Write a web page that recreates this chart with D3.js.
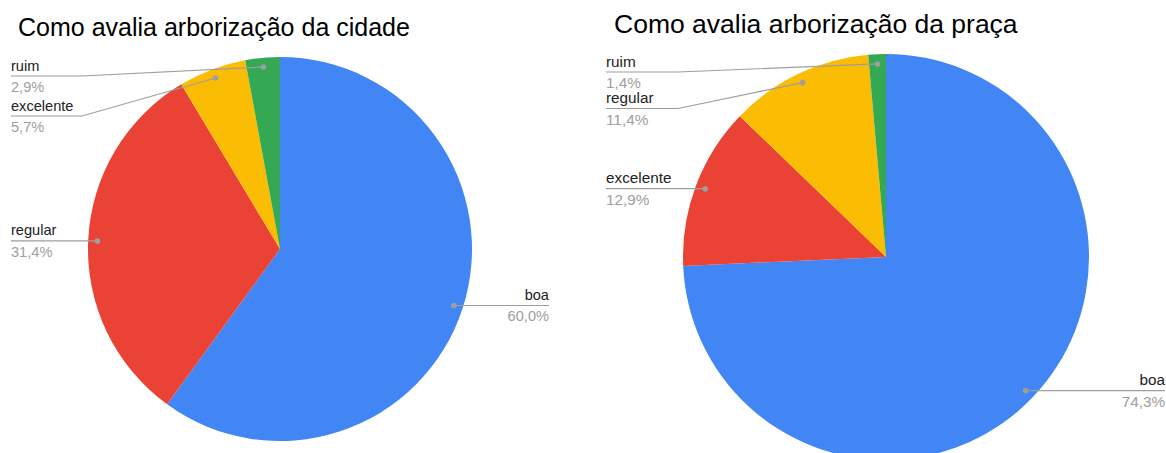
<!DOCTYPE html>
<html>
<head>
<meta charset="utf-8">
<script src="https://cdn.jsdelivr.net/npm/d3@7"></script>
<style>
  body { margin: 0; background: #fff; }
  svg { display: block; font-family: "Liberation Sans", Arial, sans-serif; }
</style>
</head>
<body>
<div id="chart"></div>
<script>
// data, in slice order (clockwise from 12 o'clock)
var cidadeLabels = ['boa', 'regular', 'excelente', 'ruim'];
var cidadeValues = [60.0, 31.4, 5.7, 2.9];
var pracaLabels = ['boa', 'excelente', 'regular', 'ruim'];
var pracaValues = [74.3, 12.9, 11.4, 1.4];

var colors = ['#4285F4', '#EA4335', '#FBBC04', '#34A853'];

var width = 1166, height = 453;

var svg = d3.select('#chart')
  .append('svg')
  .attr('width', width)
  .attr('height', height);

var charts = [
  { title: 'Como avalia arborização da cidade', labels: cidadeLabels, values: cidadeValues,
    cx: 280, cy: 249, r: 192, titleX: 18, titleY: 36, titleSize: 25, fontSize: 14.6,
    left: 11, right: 549, elbow: 82, minY: 76, spacing: 40 },
  { title: 'Como avalia arborização da praça', labels: pracaLabels, values: pracaValues,
    cx: 886, cy: 257, r: 203, titleX: 614, titleY: 33, titleSize: 26.5, fontSize: 15.3,
    left: 606, right: 1165, elbow: 678, minY: 72, spacing: 36.5 }
];

var fmt = function(v) { return v.toFixed(1).replace('.', ',') + '%'; };

charts.forEach(function(c) {
  var data = c.labels.map(function(l, i) { return { label: l, value: c.values[i], color: colors[i] }; });

  var pie = d3.pie()
    .value(function(d) { return d.value; })
    .sort(null);

  var arc = d3.arc()
    .innerRadius(0)
    .outerRadius(c.r);

  var g = svg.append('g')
    .attr('transform', 'translate(' + c.cx + ',' + c.cy + ')');

  var arcs = pie(data);

  g.selectAll('path')
    .data(arcs)
    .enter()
    .append('path')
    .attr('d', arc)
    .attr('fill', function(d) { return d.data.color; });

  svg.append('text')
    .attr('x', c.titleX)
    .attr('y', c.titleY)
    .attr('font-size', c.titleSize)
    .attr('fill', '#000')
    .text(c.title);

  // label layout: dot on 0.95r, labels pushed down to avoid overlap
  var items = arcs.map(function(d) {
    var a = (d.startAngle + d.endAngle) / 2;
    var rr = c.r * 0.952;
    return {
      d: d,
      x: c.cx + rr * Math.sin(a),
      y: c.cy - rr * Math.cos(a),
      side: a > Math.PI ? 'left' : 'right'
    };
  });

  ['left', 'right'].forEach(function(side) {
    var list = items.filter(function(it) { return it.side === side; })
      .sort(function(a, b) { return a.y - b.y; });
    var prev = -Infinity;
    list.forEach(function(it) {
      it.ly = Math.max(it.y, c.minY, prev + c.spacing);
      prev = it.ly;
    });
  });

  var lab = svg.append('g');

  items.forEach(function(it) {
    var pts;
    if (it.side === 'left') {
      pts = [[c.left, it.ly], [it.ly !== it.y ? c.elbow : it.x, it.ly], [it.x, it.y]];
    } else {
      pts = [[c.right, it.ly], [it.x, it.ly], [it.x, it.y]];
    }
    lab.append('path')
      .attr('d', d3.line()(pts))
      .attr('fill', 'none')
      .attr('stroke', '#9e9e9e')
      .attr('stroke-width', 1.2);
    lab.append('circle')
      .attr('cx', it.x)
      .attr('cy', it.y)
      .attr('r', 2.8)
      .attr('fill', '#9e9e9e');

    var tx = it.side === 'left' ? c.left : c.right;
    var anchor = it.side === 'left' ? 'start' : 'end';
    lab.append('text')
      .attr('x', tx)
      .attr('y', it.ly - 5.5)
      .attr('text-anchor', anchor)
      .attr('font-size', c.fontSize)
      .attr('fill', '#222')
      .text(it.d.data.label);
    lab.append('text')
      .attr('x', tx)
      .attr('y', it.ly + 16)
      .attr('text-anchor', anchor)
      .attr('font-size', c.fontSize)
      .attr('fill', '#9e9e9e')
      .text(fmt(it.d.data.value));
  });
});
</script>
</body>
</html>
